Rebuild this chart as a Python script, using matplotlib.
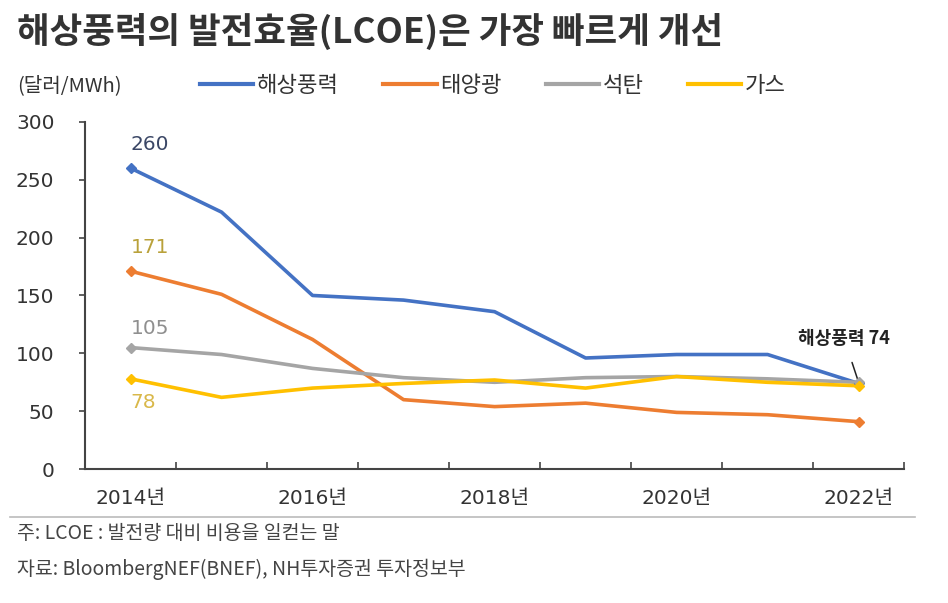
import matplotlib
matplotlib.use("Agg")
import matplotlib.pyplot as plt
from matplotlib.lines import Line2D

# ── DATA ──────────────────────────────────────────────────────────────────────

years      = [2014, 2015, 2016, 2017, 2018, 2019, 2020, 2021, 2022]
tick_years = ["2014년", "2016년", "2018년", "2020년", "2022년"]

offshore_wind = [260, 222, 150, 146, 136, 96, 99, 99, 74]
solar         = [171, 151, 112, 60, 54, 57, 49, 47, 41]
coal          = [105, 99, 87, 79, 75, 79, 80, 78, 75]
gas           = [78, 62, 70, 74, 77, 70, 80, 75, 72]

series_names  = ["해상풍력", "태양광", "석탄", "가스"]
series_values = [offshore_wind, solar, coal, gas]
colors        = ["#4472C4", "#ED7D31", "#A5A5A5", "#FFC000"]
start_colors  = ["#3b4766", "#b9a13a", "#8f8f8f", "#d9b84a"]
start_labels  = ["260", "171", "105", "78"]

# ── FIGURE ────────────────────────────────────────────────────────────────────

CJK = ["Noto Sans CJK KR", "DejaVu Sans"]
MIX = ["DejaVu Sans", "Noto Sans CJK KR"]
plt.rcParams["font.family"] = CJK

fig = plt.figure(figsize=(9.48, 6.03), dpi=100)
ax  = fig.add_axes([0.0897, 0.222, 0.864, 0.576])

x = list(range(len(years)))
for vals, c in zip(series_values, colors):
    ax.plot(x, vals, color=c, lw=2.6, solid_joinstyle="round", zorder=3)
    ax.plot([x[0], x[-1]], [vals[0], vals[-1]], ls="none", marker="D",
            ms=5, color=c, zorder=4)

# start-point value labels
offsets = [(12, "bottom"), (12, "bottom"), (8, "bottom"), (-12, "top")]
for vals, lab, c, (dy, va) in zip(series_values, start_labels, start_colors, offsets):
    ax.text(0.0, vals[0] + dy, lab, color=c, fontsize=14.5,
            family=MIX, ha="left", va=va)

# end annotation
ax.annotate("해상풍력 74", xy=(x[-1], offshore_wind[-1] + 1), xytext=(7.84, 113),
            ha="center", va="center", fontsize=13, fontweight="bold",
            color="#222222",
            arrowprops=dict(arrowstyle="-", color="#222222", lw=1.1,
                            shrinkA=9, shrinkB=0))

ax.set_xlim(-0.5, len(years) - 0.5)
ax.set_ylim(0, 300)
ax.set_yticks(range(0, 301, 50))
ax.set_yticklabels([str(v) for v in range(0, 301, 50)])
ax.set_xticks([0, 2, 4, 6, 8])
ax.set_xticklabels(tick_years)
for lbl in ax.get_xticklabels() + ax.get_yticklabels():
    lbl.set_fontfamily(MIX)
    lbl.set_fontsize(14.5)
    lbl.set_color("#333333")
ax.set_xticks([i - 0.5 for i in range(len(years) + 1)], minor=True)
ax.tick_params(axis="x", which="major", length=0, pad=14)
ax.tick_params(axis="x", which="minor", length=5, direction="in",
               color="#444444", width=1.2)
ax.tick_params(axis="y", length=4, direction="out", color="#444444",
               width=1.2, pad=18)
for side in ["top", "right"]:
    ax.spines[side].set_visible(False)
for side in ["left", "bottom"]:
    ax.spines[side].set_color("#444444")
    ax.spines[side].set_linewidth(1.5)

# title
fig.text(0.018, 0.948, "해상풍력의 발전효율(LCOE)은 가장 빠르게 개선",
         fontsize=25.5, fontweight="bold", color="#333333", va="center")

# unit + legend
fig.text(0.018, 0.858, "(달러/MWh)", fontsize=14.5, color="#333333", va="center")
handles = [Line2D([], [], color=c, lw=3) for c in colors]
fig.legend(handles, series_names, loc="center left",
           bbox_to_anchor=(0.19, 0.858), ncol=4, frameon=False,
           fontsize=16, handlelength=2.4, handletextpad=0.15,
           columnspacing=2.0, labelcolor="#333333")

# footer
fig.add_artist(Line2D([0.011, 0.965], [0.143, 0.143], color="#bbbbbb",
                      lw=1.2, transform=fig.transFigure))
fig.text(0.018, 0.115, "주: LCOE : 발전량 대비 비용을 일컫는 말",
         fontsize=14, color="#444444", va="center")
fig.text(0.018, 0.055, "자료: BloombergNEF(BNEF), NH투자증권 투자정보부",
         fontsize=14, color="#444444", va="center")

fig.savefig("out.png", dpi=100, facecolor="white")
